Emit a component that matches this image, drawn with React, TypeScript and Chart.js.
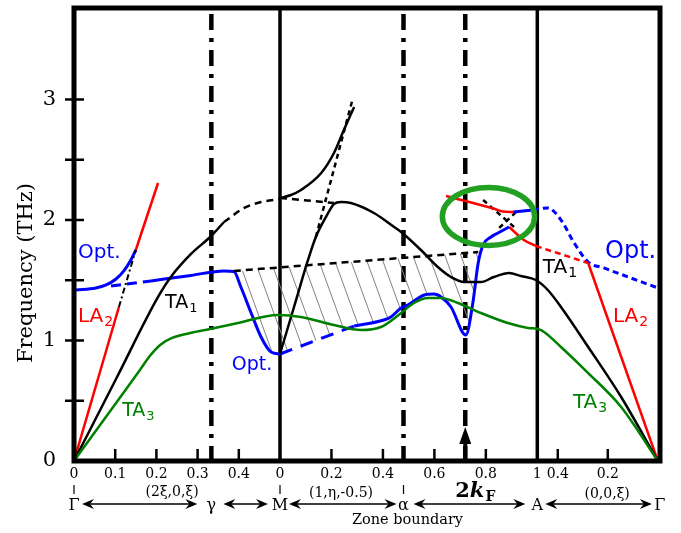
import React, { useEffect, useRef } from 'react';
import { Chart, registerables } from 'chart.js';
Chart.register(...registerables);

type P = [number, number];

// ---- path coordinate: segment 1 (2ξ,0,ξ) uses ξ directly; segment 2 (1,η,-0.5) and 3 (0,0,ξ) are mapped ----
const SEG2_PER_ETA = 0.6245;
const SEG3_PER_XI = 0.607;
const GAMMA_R_U = 1.417;
const s2 = (eta: number) => 0.5 + eta * SEG2_PER_ETA;
const s3 = (xi: number) => GAMMA_R_U - xi * SEG3_PER_XI;

const X_MAX = 1.4223;
const Y_MAX = 3.759;

const GAMMA_U = 1 / 3;
const M_U = 0.5;
const ALPHA_U = s2(0.48);
const KF_U = s2(0.72);
const A_U = s2(1);

// ---- tick labels ----
const SEG1_TICKS = [0, 0.1, 0.2, 0.3, 0.4];
const SEG2_TICKS = [0, 0.2, 0.4, 0.6, 0.8, 1];
const SEG3_TICKS = [0.4, 0.2];
const Y_TICKS = [0, 0.5, 1, 1.5, 2, 2.5, 3];

// ---- branches (path coordinate, THz) ----
const LA2_LEFT: P[] = [[0, 0], [0.109, 1.278]];
const LA2_LEFT_LINK: P[] = [[0.109, 1.278], [0.150, 1.751]];
const LA2_LEFT_UP: P[] = [[0.150, 1.751], [0.204, 2.307]];
const OPT_LEFT: P[] = [[0.005, 1.419], [0.053, 1.436], [0.078, 1.461], [0.102, 1.510], [0.121, 1.577], [0.138, 1.668], [0.150, 1.751]];
const OPT_LEFT_DASH: P[] = [[0.090, 1.452], [0.187, 1.494]];
const OPT_MID: P[] = [[0.187, 1.494], [0.284, 1.540], [0.364, 1.577], [0.388, 1.572], [0.405, 1.444], [0.430, 1.228], [0.454, 1.029], [0.478, 0.905], [0.500, 0.888]];
const OPT_MID_DASH: P[] = [[0.500, 0.888], [0.680, 1.120]];
const OPT_MID2: P[] = [[0.680, 1.120], [0.752, 1.170], [0.769, 1.195], [0.794, 1.270], [0.811, 1.295], [0.850, 1.378], [0.874, 1.386], [0.891, 1.361], [0.915, 1.278], [0.951, 1.046], [0.968, 1.311], [0.981, 1.643], [0.993, 1.793], [1.012, 1.859], [1.029, 1.892], [1.056, 1.942]];
const RED_UP_CIRCLE: P[] = [[0.903, 2.199], [1.022, 2.091], [1.041, 2.070], [1.066, 2.066]];
const BLUE_UP_CIRCLE: P[] = [[1.066, 2.066], [1.114, 2.083]];
const RED_LOW_CIRCLE: P[] = [[1.056, 1.942], [1.092, 1.834], [1.121, 1.784]];
const RED_DASH: P[] = [[1.121, 1.784], [1.248, 1.643]];
const LA2_RIGHT: P[] = [[1.248, 1.643], [1.417, 0]];
const OPT_RIGHT_DASH: P[] = [[1.114, 2.083], [1.150, 2.100], [1.182, 2.000], [1.214, 1.809], [1.248, 1.651], [1.286, 1.602], [1.417, 1.436]];
const CROSS_A: P[] = [[0.993, 2.166], [1.068, 1.942]];
const CROSS_B: P[] = [[1.032, 1.934], [1.073, 2.066]];
const TA1_LOW: P[] = [[0, 0], [0.102, 0.680], [0.204, 1.361], [0.235, 1.527], [0.284, 1.718], [0.333, 1.867], [0.364, 1.983]];
const TA1_DASH: P[] = [[0.364, 1.983], [0.413, 2.100], [0.454, 2.149], [0.500, 2.174]];
const M_UP: P[] = [[0.500, 2.183], [0.525, 2.205], [0.551, 2.249], [0.600, 2.390], [0.631, 2.556], [0.655, 2.747], [0.680, 2.938]];
const M_FLAT_DASH: P[] = [[0.500, 2.183], [0.631, 2.141]];
const TA1_MAIN: P[] = [[0.500, 0.888], [0.534, 1.278], [0.568, 1.668], [0.587, 1.859], [0.617, 2.058], [0.631, 2.133], [0.648, 2.149], [0.672, 2.141], [0.728, 2.058], [0.777, 1.942], [0.794, 1.900], [0.842, 1.751], [0.883, 1.610], [0.915, 1.527], [0.947, 1.485], [0.988, 1.485], [1.019, 1.527], [1.056, 1.560], [1.085, 1.535], [1.121, 1.502], [1.150, 1.419], [1.182, 1.278], [1.248, 0.946], [1.328, 0.531], [1.417, 0]];
const STEEP_DOT: P[] = [[0.587, 1.859], [0.677, 3.012]];
const HATCH_TOP: P[] = [[0.388, 1.577], [0.981, 1.734]];
const TA3: P[] = [[0, 0], [0.080, 0.378], [0.160, 0.755], [0.184, 0.871], [0.209, 0.963], [0.238, 1.021], [0.282, 1.062], [0.330, 1.095], [0.398, 1.145], [0.495, 1.212], [0.551, 1.195], [0.631, 1.129], [0.697, 1.087], [0.745, 1.112], [0.794, 1.228], [0.825, 1.311], [0.859, 1.353], [0.891, 1.353], [0.932, 1.311], [0.988, 1.228], [1.053, 1.145], [1.102, 1.104], [1.126, 1.095], [1.141, 1.071], [1.182, 0.946], [1.248, 0.730], [1.328, 0.448], [1.417, 0]];
const HATCH: P[] = [[0.400, 1.574], [0.981, 1.734], [0.981, 1.643], [0.968, 1.311], [0.951, 1.046], [0.915, 1.278], [0.891, 1.361], [0.874, 1.386], [0.850, 1.378], [0.811, 1.295], [0.794, 1.270], [0.769, 1.195], [0.752, 1.170], [0.680, 1.120], [0.500, 0.888], [0.478, 0.905], [0.454, 1.029], [0.430, 1.228], [0.405, 1.444], [0.400, 1.574]];

// circled region (centre and half-axes in path units / THz)
const CIRCLE = { u: 1.006, f: 2.029, ru: 0.112, rf: 0.241 };

// in-plot labels: text, subscript, colour, size, anchor (u, THz at baseline-left)
const LABELS: { t: string; s: string; c: string; size: number; u: number; f: number }[] = [
  { t: 'Opt.', s: '', c: '#0000ff', size: 20, u: 0.0097, f: 1.685 },
  { t: 'LA', s: '2', c: '#ff0000', size: 20, u: 0.0097, f: 1.154 },
  { t: 'TA', s: '1', c: '#000000', size: 19, u: 0.221, f: 1.270 },
  { t: 'TA', s: '3', c: '#008000', size: 19, u: 0.117, f: 0.373 },
  { t: 'Opt.', s: '', c: '#0000ff', size: 19, u: 0.383, f: 0.755 },
  { t: 'TA', s: '1', c: '#000000', size: 20, u: 1.138, f: 1.560 },
  { t: 'Opt.', s: '', c: '#0000ff', size: 24, u: 1.289, f: 1.685 },
  { t: 'LA', s: '2', c: '#ff0000', size: 20, u: 1.308, f: 1.154 },
  { t: 'TA', s: '3', c: '#008000', size: 20, u: 1.211, f: 0.440 },
];

const X_TICK_VALUES: number[] = [];
const X_TICK_LABELS: string[] = [];
SEG1_TICKS.forEach((v) => { X_TICK_VALUES.push(v); X_TICK_LABELS.push(String(v)); });
SEG2_TICKS.forEach((v) => { X_TICK_VALUES.push(s2(v)); X_TICK_LABELS.push(String(v)); });
SEG3_TICKS.forEach((v) => { X_TICK_VALUES.push(s3(v)); X_TICK_LABELS.push(String(v)); });
const INNER_TICKS: number[] = [
  ...SEG1_TICKS.filter((v) => v > 0),
  ...SEG2_TICKS.filter((v) => v > 0 && v < 1).map(s2),
  ...SEG3_TICKS.map(s3),
];

const toXY = (a: P[]) => a.map(([x, y]) => ({ x, y }));

function ds(data: P[], color: string, width: number, dash: number[] = [], smooth = true): any {
  return {
    data: toXY(data),
    borderColor: color,
    borderWidth: width,
    borderDash: dash,
    pointRadius: 0,
    pointHoverRadius: 0,
    fill: false,
    cubicInterpolationMode: smooth ? 'monotone' : 'default',
    tension: 0,
    order: 1,
    borderCapStyle: 'butt',
    borderJoinStyle: 'round',
  };
}

function arrowHead(ctx: CanvasRenderingContext2D, tipX: number, y: number, dir: number) {
  ctx.beginPath();
  ctx.moveTo(tipX, y);
  ctx.lineTo(tipX - dir * 12, y - 5);
  ctx.lineTo(tipX - dir * 8, y);
  ctx.lineTo(tipX - dir * 12, y + 5);
  ctx.closePath();
  ctx.fill();
}

function dblArrow(ctx: CanvasRenderingContext2D, x1: number, x2: number, y: number) {
  ctx.lineWidth = 1.6;
  ctx.beginPath();
  ctx.moveTo(x1 + 6, y);
  ctx.lineTo(x2 - 6, y);
  ctx.stroke();
  arrowHead(ctx, x1, y, -1);
  arrowHead(ctx, x2, y, 1);
}

const overlay = {
  id: 'overlay',
  beforeDatasetsDraw(chart: any) {
    const { ctx, chartArea: ca, scales } = chart;
    const X = (u: number) => scales.x.getPixelForValue(u);
    ctx.save();
    ctx.strokeStyle = '#000';
    ctx.lineWidth = 3.5;
    for (const u of [M_U, A_U]) {
      const px = X(u);
      ctx.beginPath(); ctx.moveTo(px, ca.top); ctx.lineTo(px, ca.bottom); ctx.stroke();
    }
    ctx.lineWidth = 4.5;
    ctx.setLineDash([16, 8, 4, 8]);
    for (const u of [GAMMA_U, ALPHA_U, KF_U]) {
      const px = X(u);
      ctx.beginPath(); ctx.moveTo(px, ca.top + 6); ctx.lineTo(px, ca.bottom); ctx.stroke();
    }
    ctx.restore();
  },
  afterDatasetsDraw(chart: any) {
    const { ctx, chartArea: ca, scales } = chart;
    const X = (u: number) => scales.x.getPixelForValue(u);
    const Y = (f: number) => scales.y.getPixelForValue(f);
    ctx.save();
    // highlighted region
    ctx.strokeStyle = '#22a022';
    ctx.lineWidth = 5.5;
    ctx.beginPath();
    ctx.ellipse(X(CIRCLE.u), Y(CIRCLE.f), X(CIRCLE.u + CIRCLE.ru) - X(CIRCLE.u), Y(CIRCLE.f) - Y(CIRCLE.f + CIRCLE.rf), 0, 0, Math.PI * 2);
    ctx.stroke();
    // frame
    ctx.strokeStyle = '#000';
    ctx.lineWidth = 5;
    ctx.strokeRect(ca.left, ca.top, ca.right - ca.left, ca.bottom - ca.top);
    // ticks
    ctx.lineWidth = 2.5;
    for (const v of Y_TICKS) {
      if (v === 0) continue;
      const py = Y(v);
      ctx.beginPath(); ctx.moveTo(ca.left - 9, py); ctx.lineTo(ca.left + 10, py); ctx.stroke();
    }
    for (const u of INNER_TICKS) {
      const px = X(u);
      ctx.beginPath(); ctx.moveTo(px, ca.bottom); ctx.lineTo(px, ca.bottom - 12); ctx.stroke();
    }
    // 2kF arrow
    const kx = X(KF_U);
    ctx.lineWidth = 4;
    ctx.beginPath(); ctx.moveTo(kx, ca.bottom); ctx.lineTo(kx, ca.bottom - 20); ctx.stroke();
    ctx.fillStyle = '#000';
    ctx.beginPath();
    ctx.moveTo(kx, ca.bottom - 34);
    ctx.lineTo(kx - 6, ca.bottom - 17);
    ctx.lineTo(kx + 6, ca.bottom - 17);
    ctx.closePath(); ctx.fill();

    // in-plot labels
    for (const L of LABELS) {
      const x = X(L.u), y = Y(L.f);
      ctx.fillStyle = L.c;
      ctx.textAlign = 'left';
      ctx.textBaseline = 'alphabetic';
      ctx.font = `${L.size}px "DejaVu Sans"`;
      ctx.fillText(L.t, x, y);
      if (L.s) {
        const w = ctx.measureText(L.t).width;
        ctx.font = `${Math.round(L.size * 0.68)}px "DejaVu Sans"`;
        ctx.fillText(L.s, x + w + 1, y + L.size * 0.22);
      }
    }

    // y title
    ctx.fillStyle = '#000';
    ctx.save();
    ctx.translate(32, 273);
    ctx.rotate(-Math.PI / 2);
    ctx.textAlign = 'center';
    ctx.textBaseline = 'alphabetic';
    ctx.font = '21px "DejaVu Serif"';
    ctx.fillText('Frequency (THz)', 0, 0);
    ctx.restore();

    // path annotations under the axis
    const b = ca.bottom;
    ctx.fillStyle = '#000';
    ctx.strokeStyle = '#000';
    ctx.lineWidth = 1.2;
    for (const u of [0, M_U, ALPHA_U]) {
      const px = X(u);
      ctx.beginPath(); ctx.moveTo(px, b + 24); ctx.lineTo(px, b + 33); ctx.stroke();
    }
    ctx.textAlign = 'center';
    ctx.textBaseline = 'alphabetic';
    ctx.font = '14px "DejaVu Serif"';
    ctx.fillText('(2ξ,0,ξ)', X(0.238), b + 35);
    ctx.fillText('(1,η,-0.5)', X(0.648), b + 36);
    ctx.fillText('(0,0,ξ)', X(1.294), b + 37);

    // 2kF
    const x0 = kx - 10;
    ctx.textAlign = 'left';
    ctx.font = 'bold 21px "DejaVu Serif"';
    ctx.fillText('2', x0, b + 36);
    let w = ctx.measureText('2').width;
    ctx.font = 'italic bold 21px "DejaVu Serif"';
    ctx.fillText('k', x0 + w, b + 36);
    w += ctx.measureText('k').width;
    ctx.font = 'bold 14px "DejaVu Serif"';
    ctx.fillText('F', x0 + w + 1, b + 40);

    // symmetry points and arrows
    const ry = b + 43;
    ctx.textAlign = 'center';
    ctx.font = '16px "DejaVu Serif"';
    const pts: [string, number][] = [['Γ', 0], ['γ', GAMMA_U], ['M', M_U], ['α', ALPHA_U], ['A', A_U], ['Γ', GAMMA_R_U]];
    for (const [t, u] of pts) ctx.fillText(t, X(u) + (u === GAMMA_R_U ? 2 : 0), b + 49);
    const gaps: [number, number][] = [[8, 14], [12, 12], [9, 7], [10, 12], [8, 6]];
    for (let i = 0; i < pts.length - 1; i++) {
      dblArrow(ctx, X(pts[i][1]) + gaps[i][0], X(pts[i + 1][1]) - gaps[i][1], ry);
    }
    ctx.font = '14.5px "DejaVu Serif"';
    ctx.textAlign = 'center';
    ctx.fillText('Zone boundary', X(ALPHA_U) + 4, b + 63);
    ctx.restore();
  },
};

export default function App() {
  const ref = useRef<HTMLCanvasElement | null>(null);
  useEffect(() => {
    document.body.style.margin = '0';
    const canvas = ref.current!;
    const pc = document.createElement('canvas');
    pc.width = 16; pc.height = 44;
    const g = pc.getContext('2d')!;
    g.strokeStyle = '#808080';
    g.lineWidth = 1;
    for (const dx of [-16, 0, 16]) {
      g.beginPath(); g.moveTo(dx, 0); g.lineTo(dx + 16, 44); g.stroke();
    }
    const pattern = canvas.getContext('2d')!.createPattern(pc, 'repeat');

    const hatch: any = {
      data: toXY(HATCH), borderWidth: 0, borderColor: 'rgba(0,0,0,0)', backgroundColor: pattern,
      fill: 'shape', pointRadius: 0, tension: 0, order: 5,
    };

    const datasets: any[] = [
      hatch,
      ds(HATCH_TOP, '#000', 2.5, [7, 5], false),
      ds(TA3, '#008000', 2.5),
      ds(TA1_LOW, '#000', 2.5),
      ds(TA1_DASH, '#000', 2.5, [7, 5]),
      ds(M_UP, '#000', 2.5),
      ds(M_FLAT_DASH, '#000', 2.5, [7, 5], false),
      ds(STEEP_DOT, '#000', 2.5, [5, 4], false),
      ds(TA1_MAIN, '#000', 2.5),
      ds(LA2_LEFT, '#ff0000', 2.5, [], false),
      ds(LA2_LEFT_LINK, '#000', 2, [6, 3, 2, 3], false),
      ds(LA2_LEFT_UP, '#ff0000', 2.5, [], false),
      ds(OPT_LEFT, '#0000ff', 3),
      ds(OPT_LEFT_DASH, '#0000ff', 3, [10, 6], false),
      ds(OPT_MID, '#0000ff', 3),
      ds(OPT_MID_DASH, '#0000ff', 3, [13, 9], false),
      ds(OPT_MID2, '#0000ff', 3),
      ds(RED_UP_CIRCLE, '#ff0000', 2.5),
      ds(BLUE_UP_CIRCLE, '#0000ff', 3, [], false),
      ds(RED_LOW_CIRCLE, '#ff0000', 2.5),
      ds(RED_DASH, '#ff0000', 2.5, [6, 4], false),
      ds(LA2_RIGHT, '#ff0000', 2.5, [], false),
      ds(OPT_RIGHT_DASH, '#0000ff', 3, [6, 4]),
      ds(CROSS_A, '#000', 2.5, [5, 4], false),
      ds(CROSS_B, '#000', 2.5, [5, 4], false),
    ];

    const chart = new Chart(canvas, {
      type: 'line',
      data: { datasets },
      options: {
        responsive: false,
        animation: false,
        devicePixelRatio: 1,
        events: [],
        parsing: true,
        layout: { padding: { top: 8, right: 21, left: 0, bottom: 0 } },
        plugins: { legend: { display: false }, tooltip: { enabled: false }, title: { display: false } },
        scales: {
          x: {
            type: 'linear', min: 0, max: X_MAX,
            grid: { display: false, drawTicks: false },
            border: { display: false },
            afterBuildTicks: (s: any) => { s.ticks = X_TICK_VALUES.map((v) => ({ value: v })); },
            afterFit: (s: any) => { s.height = 72; s.paddingLeft = 0; s.paddingRight = 0; s.paddingTop = 0; s.paddingBottom = 0; },
            ticks: {
              autoSkip: false, maxRotation: 0, minRotation: 0, padding: 5, color: '#000',
              font: { family: 'DejaVu Serif', size: 14 },
              callback: (_v: any, i: number) => X_TICK_LABELS[i],
            },
          },
          y: {
            type: 'linear', min: 0, max: Y_MAX,
            grid: { display: false, drawTicks: false },
            border: { display: false },
            afterBuildTicks: (s: any) => { s.ticks = Y_TICKS.map((v) => ({ value: v })); },
            afterFit: (s: any) => { s.width = 74; s.paddingTop = 0; s.paddingBottom = 0; s.paddingLeft = 0; s.paddingRight = 0; },
            ticks: {
              padding: 18, color: '#000',
              font: { family: 'DejaVu Serif', size: 21 },
              callback: (v: any) => (Number.isInteger(v) ? String(v) : ''),
            },
          },
        },
      } as any,
      plugins: [overlay],
    });
    return () => chart.destroy();
  }, []);
  return <canvas ref={ref} width={681} height={533} style={{ display: 'block', width: 681, height: 533 }} />;
}
